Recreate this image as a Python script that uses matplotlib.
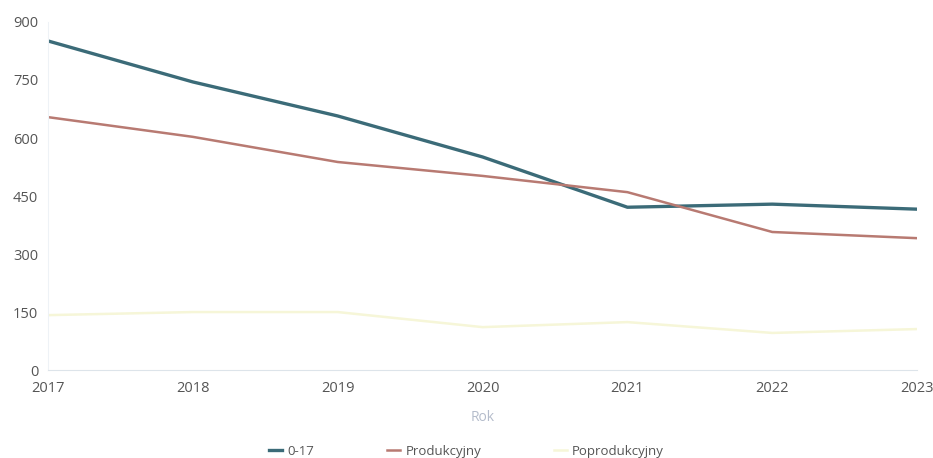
import matplotlib.pyplot as plt

plt.rcParams['font.family'] = ['Open Sans', 'DejaVu Sans']

# dane
years = [2017, 2018, 2019, 2020, 2021, 2022, 2023]
przedprod = [851, 745, 657, 551, 421, 429, 416]
produkcyjny = [654, 603, 538, 502, 460, 357, 341]
poprodukcyjny = [142, 150, 150, 111, 124, 96, 106]
yticks = [0, 150, 300, 450, 600, 750, 900]

fig = plt.figure(figsize=(9.33, 4.58), dpi=100)
ax = fig.add_axes([0.0514, 0.192, 0.9316, 0.760])

ax.plot(years, przedprod, color='#3b6b78', lw=2.4, label='0-17')
ax.plot(years, produkcyjny, color='#b87a72', lw=1.8, label='Produkcyjny')
ax.plot(years, poprodukcyjny, color='#f6f6d8', lw=1.8, label='Poprodukcyjny')

ax.set_xlim(years[0], years[-1])
ax.set_ylim(0, 900)
ax.set_xticks(years)
ax.set_yticks(yticks)
ax.tick_params(length=0, labelsize=10.5, colors='#555555')
ax.tick_params(axis='y', pad=7)
ax.tick_params(axis='x', pad=8)

for s in ['top', 'right']:
    ax.spines[s].set_visible(False)
ax.spines['left'].set_color('#eef2f6')
ax.spines['bottom'].set_color('#dde4ea')

ax.set_xlabel('Rok', color='#b4bccb', fontsize=10, labelpad=10)

leg = fig.legend(loc='center', bbox_to_anchor=(0.5, 0.015), ncol=3,
                 frameon=False, fontsize=9.5, handlelength=1.0,
                 handletextpad=0.4, columnspacing=5.5, labelcolor='#555555')

fig.savefig('out.png', dpi=100)
